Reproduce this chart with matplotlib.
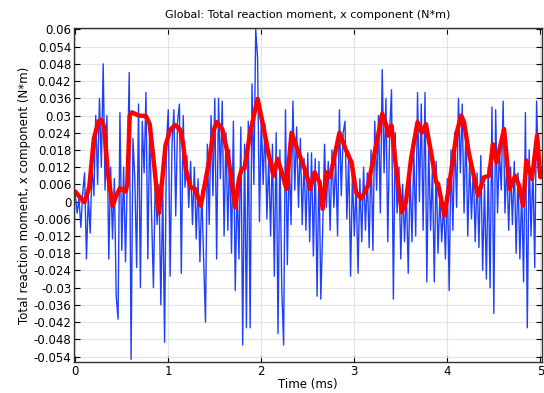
import numpy as np
import matplotlib
matplotlib.use("Agg")
import matplotlib.pyplot as plt
from matplotlib.ticker import FixedLocator, FuncFormatter

# raw signal, sampled every 0.02 ms (N*m)
raw_t = [round(i * 0.02, 2) for i in range(251)]
raw_moment = [
    0.002, -0.004, 0.001, -0.009, 0.003, 0.010, -0.020, 0.002, -0.011, 0.012,
    0.002, 0.030, 0.006, 0.036, 0.012, 0.048, 0.004, 0.030, -0.020, 0.012,
    -0.013, 0.008, -0.033, -0.041, 0.031, -0.017, 0.012, -0.021, 0.010, 0.045,
    -0.055, 0.022, 0.008, -0.023, 0.034, -0.030, 0.028, 0.010, 0.038, -0.020,
    0.026, -0.004, -0.030, 0.008, -0.008, 0.006, -0.036, 0.004, -0.049, 0.020,
    0.032, -0.026, 0.020, 0.032, -0.005, 0.028, 0.034, -0.025, 0.030, 0.005,
    0.016, -0.002, 0.014, -0.008, 0.012, -0.013, 0.008, -0.021, 0.004, -0.020,
    -0.042, 0.020, -0.008, 0.030, 0.002, 0.036, -0.020, 0.036, 0.008, 0.035,
    -0.012, 0.024, -0.010, 0.018, -0.018, 0.028, -0.031, 0.006, -0.020, 0.026,
    -0.050, 0.020, -0.044, 0.028, -0.044, 0.041, 0.006, 0.060, 0.050, -0.007,
    0.030, 0.006, 0.027, -0.006, 0.015, -0.012, 0.020, -0.026, 0.024, -0.046,
    0.018, -0.030, -0.050, 0.032, -0.022, 0.016, -0.008, 0.035, 0.004, 0.026,
    -0.002, 0.022, -0.008, 0.015, -0.010, 0.017, -0.014, 0.017, -0.019, 0.015,
    -0.033, 0.014, -0.034, -0.010, 0.020, -0.002, 0.014, -0.010, 0.018, -0.002,
    0.015, -0.012, 0.032, 0.002, 0.024, 0.028, -0.006, 0.016, -0.026, 0.010,
    -0.012, 0.006, -0.025, 0.008, -0.014, 0.012, -0.010, 0.010, -0.016, 0.018,
    -0.017, 0.028, 0.004, 0.030, -0.004, 0.046, 0.010, 0.036, -0.014, 0.024,
    0.039, -0.034, 0.024, -0.004, 0.012, -0.020, 0.006, -0.014, 0.004, -0.025,
    0.010, -0.014, 0.018, -0.012, 0.038, 0.000, 0.034, -0.010, 0.038, -0.028,
    0.020, -0.010, 0.012, -0.028, 0.014, -0.018, 0.002, -0.014, 0.000, -0.020,
    0.008, -0.031, 0.018, -0.010, 0.024, -0.002, 0.036, 0.010, 0.034, -0.004,
    0.026, -0.012, 0.014, -0.006, 0.012, -0.014, 0.010, -0.016, 0.016, -0.024,
    0.006, -0.027, 0.012, -0.030, 0.033, -0.039, 0.032, -0.004, 0.018, 0.004,
    0.035, -0.004, 0.014, -0.010, 0.012, -0.008, 0.014, -0.018, 0.010, -0.020,
    0.004, -0.028, 0.031, -0.044, 0.018, -0.012, 0.012, -0.023, 0.035, 0.010,
    0.014,
]

# smoothed signal (N*m)
smooth_t = [
    0.00, 0.05, 0.10, 0.15, 0.20, 0.25, 0.28, 0.31, 0.35, 0.40,
    0.44, 0.48, 0.54, 0.56, 0.585, 0.61, 0.68, 0.76, 0.80, 0.85,
    0.90, 0.93, 0.97, 1.02, 1.075, 1.13, 1.16, 1.19, 1.24, 1.29,
    1.35, 1.43, 1.49, 1.52, 1.58, 1.63, 1.67, 1.72, 1.76, 1.79,
    1.82, 1.88, 1.96, 2.02, 2.075, 2.13, 2.175, 2.22, 2.27, 2.30,
    2.325, 2.40, 2.48, 2.527, 2.573, 2.627, 2.66, 2.70, 2.74, 2.84,
    2.91, 2.97, 3.02, 3.075, 3.147, 3.22, 3.30, 3.345, 3.366, 3.40,
    3.45, 3.51, 3.555, 3.61, 3.68, 3.725, 3.77, 3.825, 3.88, 3.90,
    3.97, 4.04, 4.10, 4.15, 4.18, 4.23, 4.33, 4.395, 4.45, 4.49,
    4.53, 4.61, 4.67, 4.73, 4.77, 4.815, 4.85, 4.91, 4.965, 5.00,
]
smooth_moment = [
    0.0035, 0.0015, -0.0002, 0.005, 0.022, 0.028, 0.0285, 0.026, 0.010, -0.0015,
    0.002, 0.0047, 0.0035, 0.006, 0.030, 0.0311, 0.0300, 0.0298, 0.027, 0.012,
    -0.004, 0.006, 0.0195, 0.025, 0.0267, 0.025, 0.020, 0.011, 0.005, 0.0044,
    -0.0014, 0.0126, 0.025, 0.0277, 0.0253, 0.018, 0.010, -0.002, 0.008, 0.0114,
    0.0116, 0.024, 0.0358, 0.0265, 0.0172, 0.009, 0.0149, 0.0102, 0.0044, 0.015,
    0.024, 0.0172, 0.0102, 0.0044, 0.0102, 0.0067, -0.0025, 0.0102, 0.0085, 0.024,
    0.018, 0.0137, 0.0032, 0.001, 0.0056, 0.0172, 0.0306, 0.0265, 0.023, 0.0265,
    0.0114, -0.0037, -0.0002, 0.0149, 0.0277, 0.024, 0.027, 0.0172, 0.0067, 0.0062,
    -0.0049, 0.0102, 0.024, 0.030, 0.0277, 0.0172, 0.0021, 0.0085, 0.009, 0.020,
    0.0137, 0.0253, 0.0044, 0.009, 0.0056, -0.0014, 0.0143, 0.0079, 0.023, 0.0085,
]

y_ticks = [round(v, 3) for v in np.arange(-0.054, 0.0601, 0.006)]

fig = plt.figure(figsize=(5.44, 3.93), dpi=100)
ax = fig.add_axes([0.136, 0.079, 0.8603, 0.8497])

ax.plot(raw_t, raw_moment, color="#1f3fff", lw=1.0)
ax.plot(smooth_t, smooth_moment, color="#ff0000", lw=3.2,
        solid_joinstyle="round", solid_capstyle="round")

ax.set_xlim(-0.014, 5.018)
ax.set_ylim(-0.0559, 0.0605)
ax.yaxis.set_major_locator(FixedLocator(y_ticks))
ax.yaxis.set_major_formatter(FuncFormatter(lambda v, p: "0" if abs(v) < 1e-9 else f"{v:g}"))
ax.set_xticks([0, 1, 2, 3, 4, 5])

ax.grid(True, color="#e4e4e4", lw=0.8)
ax.set_axisbelow(True)
ax.tick_params(direction="in", top=True, right=True, length=4, labelsize=8.5, pad=2)
for s in ax.spines.values():
    s.set_linewidth(1.0)
    s.set_color("#333333")

ax.set_title("Global: Total reaction moment, x component (N*m)", fontsize=8, pad=7)
ax.set_xlabel("Time (ms)", fontsize=8.5, labelpad=0)
ax.set_ylabel("Total reaction moment, x component (N*m)", fontsize=8.5, labelpad=2)

fig.savefig("out.png", dpi=100)
